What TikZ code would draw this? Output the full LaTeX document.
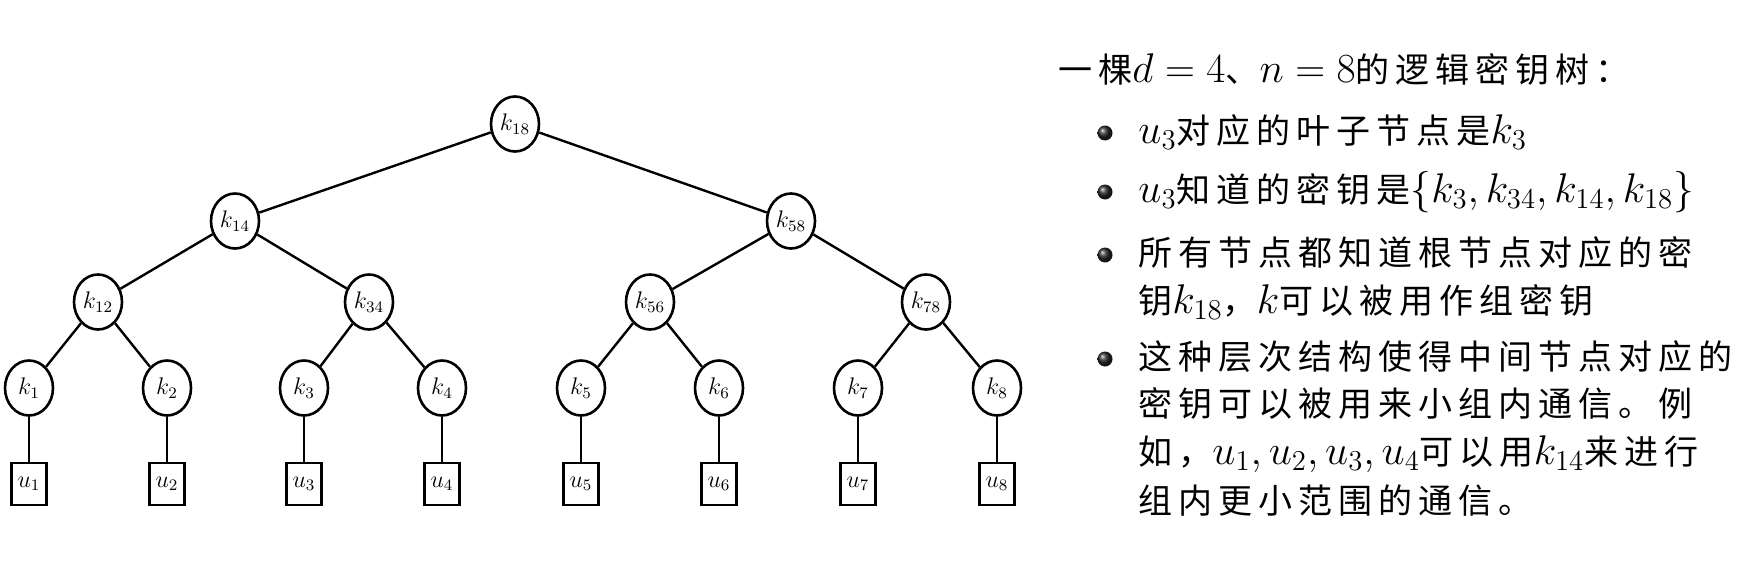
\documentclass[tikz,border=0pt]{standalone}
\usepackage{fontspec}
\newfontfamily\cjk[Scale=0.81,LetterSpace=17.6]{Noto Sans CJK SC}
\usetikzlibrary{shapes.geometric}

\begin{document}
\begin{tikzpicture}[x=0.5pt,y=-0.5pt,
        key/.style={ellipse, draw, line width=1.3pt, minimum width=24pt,
            minimum height=27.5pt, inner sep=0pt, font=\fontsize{12}{14}\selectfont},
        user/.style={rectangle, draw, line width=1.3pt, minimum width=17.5pt,
            minimum height=21pt, inner sep=0pt, font=\fontsize{12}{14}\selectfont},
        link/.style={line width=1.2pt},
        dot/.style={circle, ball color=black!85, minimum size=7.5pt, inner sep=0pt},
        line/.style={anchor=base west, inner sep=0pt, font=\fontsize{21}{25}\selectfont}]
    \useasboundingbox (0,0) rectangle (1764,567);

    % key tree
    \node[key] (k18) at (515,124) {$k_{18}$};
    \node[key] (k14) at (235,221) {$k_{14}$};
    \node[key] (k58) at (791,221) {$k_{58}$};
    \node[key] (k12) at (98,302)  {$k_{12}$};
    \node[key] (k34) at (369,302) {$k_{34}$};
    \node[key] (k56) at (650,302) {$k_{56}$};
    \node[key] (k78) at (926,302) {$k_{78}$};
    \foreach \i/\x in {1/29,2/167,3/304,4/442,5/581,6/719,7/858,8/997} {
        \node[key]  (k\i) at (\x,388) {$k_{\i}$};
        \node[user] (u\i) at (\x,484) {$u_{\i}$};
        \draw[link] (k\i) -- (u\i);
    }
    \draw[link] (k18) -- (k14);
    \draw[link] (k18) -- (k58);
    \draw[link] (k14) -- (k12);
    \draw[link] (k14) -- (k34);
    \draw[link] (k58) -- (k56);
    \draw[link] (k58) -- (k78);
    \draw[link] (k12) -- (k1);
    \draw[link] (k12) -- (k2);
    \draw[link] (k34) -- (k3);
    \draw[link] (k34) -- (k4);
    \draw[link] (k56) -- (k5);
    \draw[link] (k56) -- (k6);
    \draw[link] (k78) -- (k7);
    \draw[link] (k78) -- (k8);

    % notes
    \node[line] (title) at (1058,83) {{\cjk 一棵}$d=4${\cjk 、}$n=8${\cjk 的逻辑密钥树：}};
    \node[dot] (d1) at (1105,133) {};
    \node[line] (n1) at (1138,143) {$u_3${\cjk 对应的叶子节点是}$k_3$};
    \node[dot] (d2) at (1105,192) {};
    \node[line] (n2) at (1138,202) {$u_3${\cjk 知道的密钥是}$\{k_3,k_{34},k_{14},k_{18}\}$};
    \node[dot] (d3) at (1105,255) {};
    \node[line] (n3a) at (1138,265) {{\cjk 所有节点都知道根节点对应的密}};
    \node[line] (n3b) at (1138,313) {{\cjk 钥}$k_{18}${\cjk ，}$k${\cjk 可以被用作组密钥}};
    \node[dot] (d4) at (1105,359) {};
    \node[line] (n4a) at (1138,369) {{\cjk 这种层次结构使得中间节点对应的}};
    \node[line] (n4b) at (1138,416) {{\cjk 密钥可以被用来小组内通信。例}};
    \node[line] (n4c) at (1138,464) {{\cjk 如，}$u_1,u_2,u_3,u_4${\cjk 可以用}$k_{14}${\cjk 来进行}};
    \node[line] (n4d) at (1138,513) {{\cjk 组内更小范围的通信。}};
\end{tikzpicture}
\end{document}
